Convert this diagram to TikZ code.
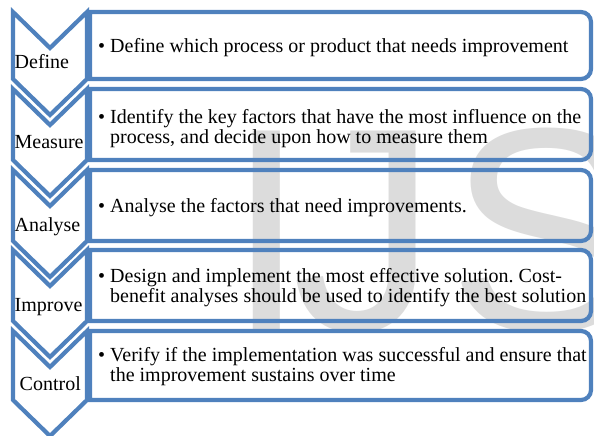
\documentclass[tikz,border=0pt]{standalone}
\usepackage{fontspec}
\setmainfont{Liberation Serif}
\newfontfamily\markfont{Liberation Sans}
\definecolor{dmaicblue}{HTML}{4F81BD}
\definecolor{markgray}{HTML}{DCDCDC}
\frenchspacing

% bullet followed by lines that hang under the first one
\newcommand\bulletlines[1]{\begin{tabular}[t]{@{}l@{\hspace{5pt}}l@{}}\textbullet & #1\end{tabular}}

\begin{document}
\begin{tikzpicture}[x=1pt,y=-1pt,
  frame/.style={draw=dmaicblue, line width=4.2pt, line join=miter},
  stagelabel/.style={font=\fontsize{20}{20}\selectfont, inner sep=0pt, anchor=base west},
  detail/.style={font=\fontsize{20}{20}\selectfont, inner sep=0pt, anchor=base west},
  bigmark/.style={font=\markfont\fontsize{290}{290}\selectfont, text=markgray, inner sep=0pt, anchor=base west}]
\useasboundingbox (0,0) rectangle (594,436);

% large pale letters in the background
\node[bigmark] (markI) at (226,330) {I};
\node[bigmark] (markJ) at (292,330) {J};
\node[bigmark] (markS) at (448,330) {S};

% one chevron and one detail box per DMAIC stage: top / bottom of each row
\foreach \t/\b in {12/79, 89/160, 170/241, 250/321, 331/400}{
  \draw[frame] (13,\t) -- (50,\t+36) -- (87,\t) -- (87,\b) -- (50,\b+36) -- (13,\b) -- cycle;
  \draw[frame] (90,\t) -- (581,\t) arc[start angle=-90, end angle=0, radius=10]
    -- (591,\b-10) arc[start angle=0, end angle=90, radius=10] -- (90,\b) -- cycle;
}

% stage names
\node[stagelabel] (define)  at (14.5,68)    {Define};
\node[stagelabel] (measure) at (14.5,148.3) {Measure};
\node[stagelabel] (analyse) at (14.5,231)   {Analyse};
\node[stagelabel] (improve) at (14.5,311.7) {Improve};
\node[stagelabel] (control) at (19.5,390)   {Control};

% stage descriptions
\node[detail] (defineText)  at (98,52.5)
  {\bulletlines{Define which process or product that needs improvement}};
\node[detail] (measureText) at (98,123)
  {\bulletlines{Identify the key factors that have the most influence on the\\ & process, and decide upon how to measure them}};
\node[detail] (analyseText) at (98,212)
  {\bulletlines{Analyse the factors that need improvements.}};
\node[detail] (improveText) at (98,282)
  {\bulletlines{Design and implement the most effective solution. Cost-\\ & benefit analyses should be used to identify the best solution}};
\node[detail] (controlText) at (98,361.7)
  {\bulletlines{Verify if the implementation was successful and ensure that\\ & the improvement sustains over time}};
\end{tikzpicture}
\end{document}
